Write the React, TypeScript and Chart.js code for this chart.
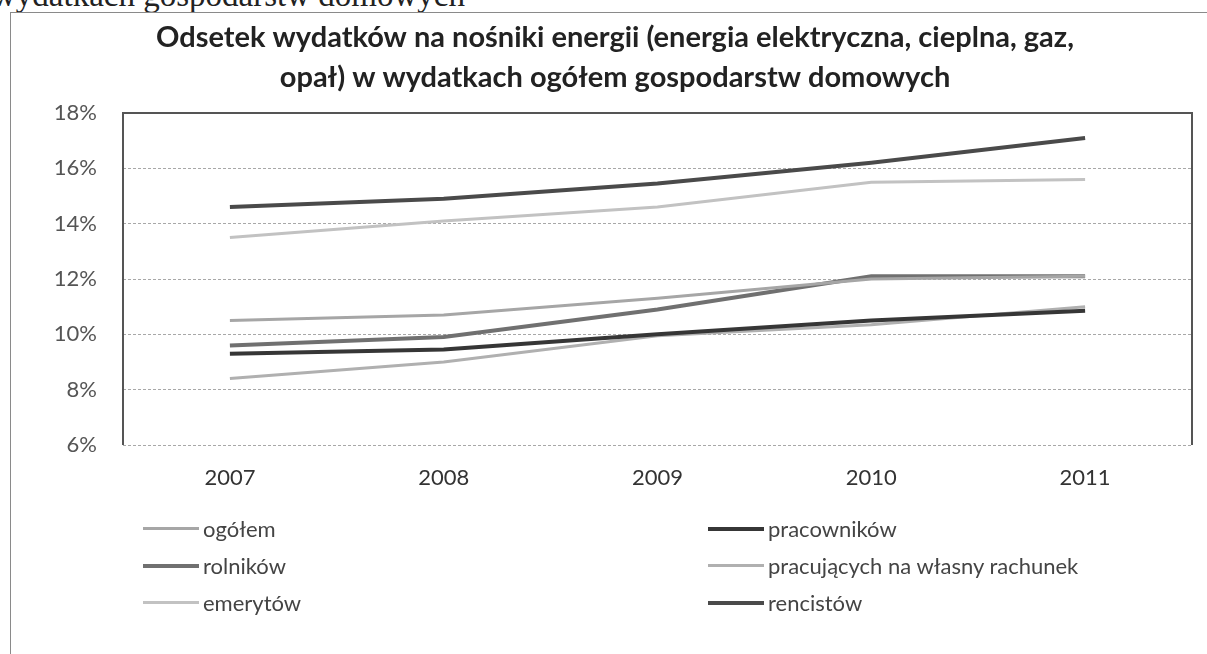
import React, { useEffect, useRef } from 'react';
import { Chart, registerables } from 'chart.js';

Chart.register(...registerables);

// ---- data ----
const years = ['2007', '2008', '2009', '2010', '2011'];
const ogolem = [10.5, 10.7, 11.3, 12.0, 12.1];
const pracownikow = [9.3, 9.45, 10.0, 10.5, 10.85];
const rolnikow = [9.6, 9.9, 10.9, 12.1, 12.1];
const pracujacych = [8.4, 9.0, 9.95, 10.35, 11.0];
const emerytow = [13.5, 14.1, 14.6, 15.5, 15.6];
const rencistow = [14.6, 14.9, 15.45, 16.2, 17.1];

const seriesNames = ['ogółem', 'pracowników', 'rolników', 'pracujących na własny rachunek', 'emerytów', 'rencistów'];
const seriesValues = [ogolem, pracownikow, rolnikow, pracujacych, emerytow, rencistow];

const yMin = 6;
const yMax = 18;
const yStep = 2;

const titleLines = [
  'Odsetek wydatków na nośniki energii (energia elektryczna, cieplna, gaz,',
  'opał) w wydatkach ogółem gospodarstw domowych',
];
const headerText = 'wydatkach gospodarstw domowych';

// ---- styles ----
const seriesColors = ['#a6a6a6', '#363636', '#707070', '#b0b0b0', '#c2c2c2', '#4a4a4a'];
const seriesWidths = [3, 4, 4, 3, 3, 4];
const FONT = 'Lato, "Open Sans", sans-serif';

const framePlugin = {
  id: 'plotFrame',
  beforeDatasetsDraw(chart: any) {
    const { ctx, chartArea } = chart;
    const { left, top, right, bottom } = chartArea;
    ctx.save();
    ctx.strokeStyle = '#555';
    ctx.lineWidth = 2;
    ctx.beginPath();
    ctx.moveTo(left, bottom);
    ctx.lineTo(left, top);
    ctx.lineTo(right, top);
    ctx.lineTo(right, bottom);
    ctx.stroke();
    ctx.restore();
  },
};

export default function App() {
  const canvasRef = useRef<HTMLCanvasElement | null>(null);

  useEffect(() => {
    if (!canvasRef.current) return;
    const chart = new Chart(canvasRef.current, {
      type: 'line',
      data: {
        labels: years,
        datasets: seriesNames.map((name, i) => ({
          label: name,
          data: seriesValues[i],
          borderColor: seriesColors[i],
          backgroundColor: seriesColors[i],
          borderWidth: seriesWidths[i],
          pointRadius: 0,
          tension: 0,
          fill: false,
        })),
      },
      options: {
        animation: false,
        responsive: false,
        events: [],
        layout: { padding: { top: 0, left: 38, right: 15, bottom: 159 } },
        plugins: {
          legend: { display: false },
          tooltip: { enabled: false },
          title: {
            display: true,
            text: titleLines,
            color: '#222',
            font: { family: FONT, size: 29, weight: 'bold', lineHeight: 40 / 29 },
            padding: { top: 18, bottom: 15 },
          },
        },
        scales: {
          x: {
            type: 'category',
            offset: true,
            grid: { display: false, drawTicks: false },
            border: { display: false },
            ticks: { color: '#333', font: { family: FONT, size: 22 }, padding: 20 },
            afterFit: (s: any) => { s.height = 50; },
          },
          y: {
            min: yMin,
            max: yMax,
            grid: { color: '#a8a8a8', lineWidth: 1, drawTicks: false },
            border: { display: false, dash: [3, 2] },
            ticks: {
              stepSize: yStep,
              color: '#555',
              font: { family: FONT, size: 22 },
              padding: 26,
              callback: (v: any) => `${v}%`,
            },
            afterFit: (s: any) => { s.width = 85; },
          },
        },
      },
      plugins: [framePlugin],
    });
    return () => chart.destroy();
  }, []);

  return (
    <div style={{ position: 'fixed', left: 0, top: 0, width: 1207, height: 654, overflow: 'hidden', background: '#fff' }}>
      <div
        style={{
          position: 'absolute', left: -8, top: -21, fontFamily: '"Liberation Serif", serif', fontSize: 33,
          lineHeight: '33px', color: '#222', whiteSpace: 'nowrap',
        }}
      >
        {headerText}
      </div>
      <div style={{ position: 'absolute', left: 10, top: 12, width: 1300, height: 800, border: '1.5px solid #8a8a8a' }} />
      <canvas ref={canvasRef} width={1207} height={654} style={{ position: 'absolute', left: 0, top: 0, width: 1207, height: 654 }} />
      <div
        style={{
          position: 'absolute', left: 143, top: 510, display: 'grid', gridTemplateColumns: '565px 420px',
          gridAutoRows: '37px', fontFamily: FONT, fontSize: 22, color: '#444',
        }}
      >
        {seriesNames.map((name, i) => (
          <div key={name} style={{ display: 'flex', alignItems: 'center', whiteSpace: 'nowrap' }}>
            <span style={{ display: 'inline-block', width: 56, height: seriesWidths[i], background: seriesColors[i], marginRight: 4 }} />
            <span>{name}</span>
          </div>
        ))}
      </div>
    </div>
  );
}
